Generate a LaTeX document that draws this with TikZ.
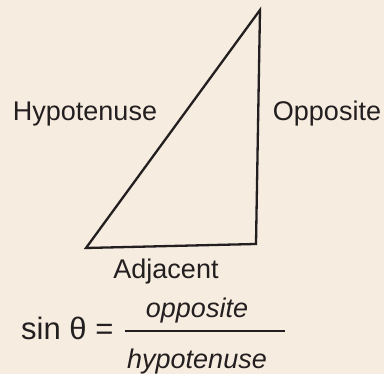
\documentclass[tikz,border=0pt]{standalone}
\usepackage{fontspec}
\setmainfont{Liberation Sans}
\definecolor{paper}{HTML}{F6ECDF}
\definecolor{ink}{HTML}{231F20}
\tikzset{
  sidelabel/.style={anchor=base,inner sep=0pt,font=\fontsize{27}{32}\selectfont},
  fraclabel/.style={anchor=base,inner sep=0pt,font=\fontsize{27}{32}\selectfont\itshape}
}
\begin{document}
\begin{tikzpicture}[x=1pt,y=1pt,text=ink]
  \fill[paper] (0,0) rectangle (384,374);
  \coordinate (top) at (260,364);
  \coordinate (bl) at (86,126);
  \coordinate (br) at (256,130);
  \draw[ink,line width=2.3pt] (top) -- (br) -- (bl) -- cycle;
  \node[sidelabel] (hyp) at (85,253) {Hypotenuse};
  \node[sidelabel] (opp) at (327,253) {Opposite};
  \node[sidelabel] (adj) at (166,95) {Adjacent};
  \node[anchor=base west,inner sep=0pt,font=\fontsize{31}{36}\selectfont] (sin) at (21,34) {sin θ =};
  \node[fraclabel] (num) at (197,56) {opposite};
  \node[fraclabel] (den) at (197,5) {hypotenuse};
  \coordinate (barl) at (125,43);
  \coordinate (barr) at (285,43);
  \draw[ink,line width=2pt] (barl) -- (barr);
\end{tikzpicture}
\end{document}
